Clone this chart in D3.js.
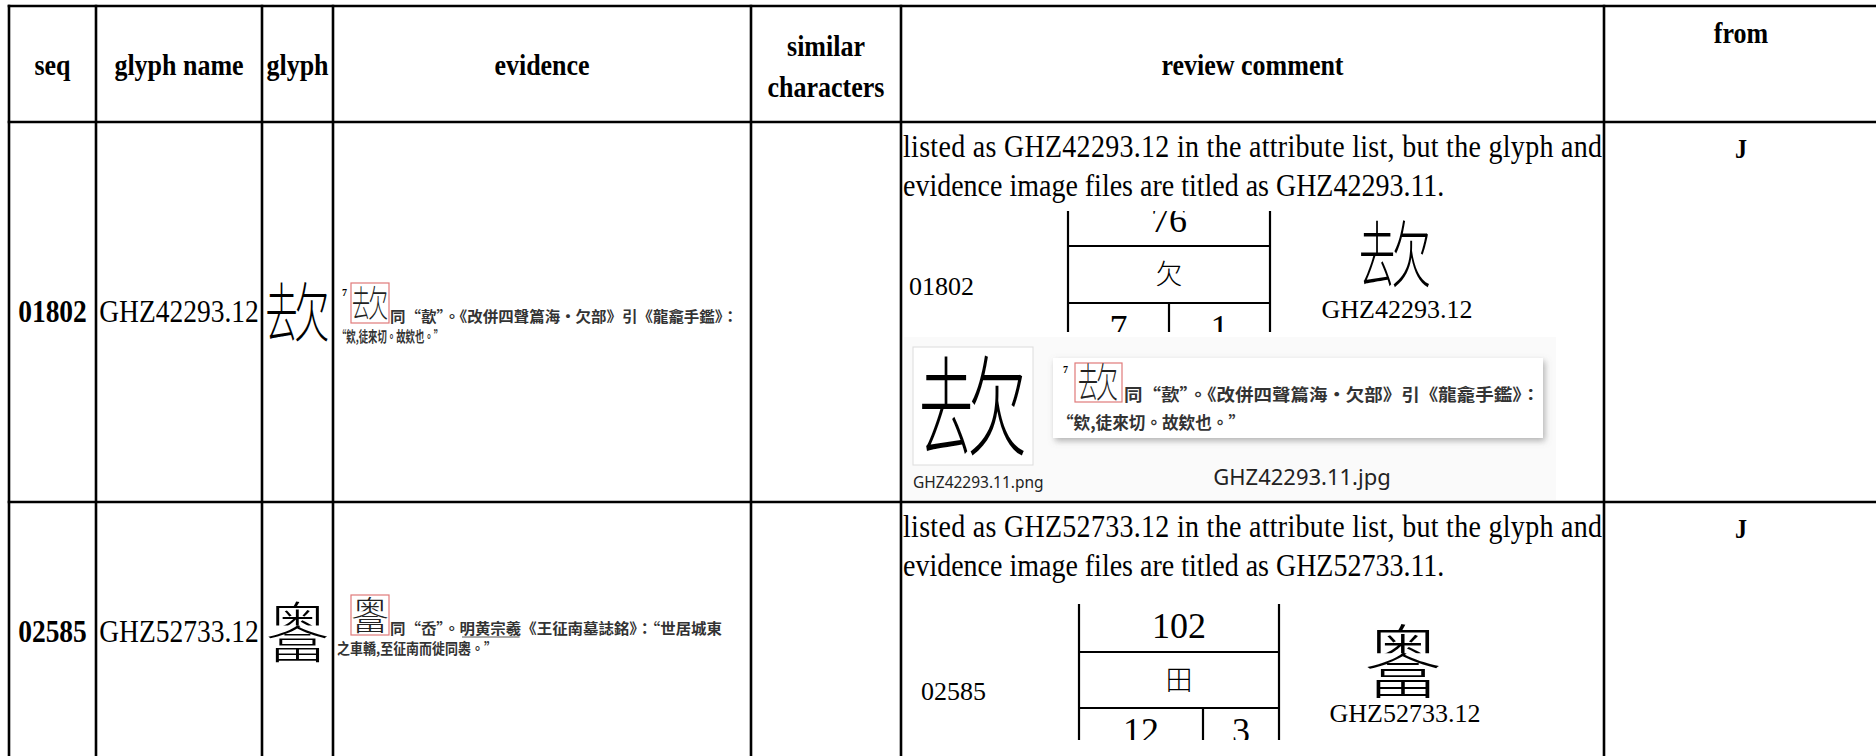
<!DOCTYPE html>
<html><head><meta charset="utf-8">
<script src="https://cdn.jsdelivr.net/npm/d3@7"></script>
<style>html,body{margin:0;padding:0;background:#fff;overflow:hidden}</style>
</head><body><svg id="c" width="1876" height="756"></svg>
<script>
// ---------- data ----------
const columns = ["seq","glyph name","glyph","evidence","similar characters","review comment","from"];
const seqs = ["01802","02585"];
const glyphNames = ["GHZ42293.12","GHZ52733.12"];
const fileNames = ["GHZ42293.11","GHZ52733.11"];
const glyphKeys = ["A","B"];
const superscripts = ["7",""];
const evidenceLine1 = ["同“歖”。《改併四聲篇海·欠部》引《龍龕手鑑》：","同“岙”。明黄宗羲《王征南墓誌銘》：“世居城東"];
const evidenceLine2 = ["“欸,徒來切。故欸也。”","之車轎,至征南而徙同嶴。”"];
const similarChars = ["",""];
const sources = ["J","J"];
const radicalNums = ["76","102"];
const radicalChars = ["欠","田"];
const strokeCounts = ["7","12"];
const firstStrokes = ["1","3"];

// ---------- layout ----------
const W = 1876, H = 756;
const SERIF = '"Liberation Serif","Times New Roman",serif';
const CJK = '"Noto Sans CJK TC","Noto Sans CJK SC",sans-serif';
const SANS = '"Noto Sans","Open Sans",sans-serif';
const SY = 1.15;
const colEdges = [9,96,262,333,751,901,1604,1878];
const rowEdges = [6,122,502,762];
const evBase = [322,634];
const evLen1 = [348,332];
const evLen2 = [106,160];
const diag = [
 {x0:1068,x1:1270,xm:1169,top:211,h1:246,h2:303,bot:332,numBase:232,radCy:274,sBase:340,idX:909,idBase:295,gCx:1395,gCy:254,gSize:72,labBase:318},
 {x0:1079,x1:1279,xm:1203,top:604,h1:652,h2:708,bot:740,numBase:638,radCy:680,sBase:743,idX:921,idBase:700,gCx:1403,gCy:661,gSize:78,labBase:722}
];

const svg = d3.select('#c');
const defs = svg.append('defs');
const f = defs.append('filter').attr('id','shadow').attr('x','-5%').attr('y','-20%').attr('width','112%').attr('height','150%');
f.append('feDropShadow').attr('dx',2).attr('dy',3).attr('stdDeviation',3).attr('flood-color','#777').attr('flood-opacity',0.55);

const xL = d3.scaleOrdinal(columns, colEdges.slice(0,-1));
const xR = d3.scaleOrdinal(columns, colEdges.slice(1));
const xC = c => (xL(c)+xR(c))/2;
const rowKeys = ["header", ...seqs];
const yT = d3.scaleOrdinal(rowKeys, rowEdges.slice(0,-1));
const yB = d3.scaleOrdinal(rowKeys, rowEdges.slice(1));
const yM = k => (yT(k)+yB(k))/2;

function T(p, x, y, str, o = {}) {
  return p.append('text')
    .attr('transform', `translate(${x},${y}) scale(${o.sx||1},${o.sy||1})`)
    .attr('font-family', o.ff || SERIF)
    .attr('font-size', o.fs || 26)
    .attr('font-weight', o.fw || 'normal')
    .attr('text-anchor', o.anchor || 'start')
    .attr('fill', o.fill || '#000')
    .text(str);
}

let clipId = 0;
function drawGlyph(p, key, cx, cy, size, fill) {
  const g = p.append('g').attr('transform', `translate(${cx},${cy})`);
  const fc = fill || '#000';
  if (key === 'A') {
    g.append('text').attr('transform', `translate(${-size*0.5},${size*0.38}) scale(0.5,1)`)
      .attr('font-family', CJK).attr('font-size', size).attr('font-weight', 300).attr('fill', fc).text('去');
    g.append('text').attr('transform', `translate(${-size*0.05},${size*0.38}) scale(0.55,1)`)
      .attr('font-family', CJK).attr('font-size', size).attr('font-weight', 300).attr('fill', fc).text('欠');
  } else {
    const id = 'gc' + (clipId++);
    defs.append('clipPath').attr('id', id).append('rect')
      .attr('x', -size).attr('y', -size).attr('width', size*2).attr('height', size*0.9);
    g.append('g').attr('clip-path', `url(#${id})`).append('text')
      .attr('transform', `translate(0,${size*0.16}) scale(1,0.75)`)
      .attr('text-anchor', 'middle').attr('font-family', CJK).attr('font-size', size).attr('font-weight', 300).attr('fill', fc).text('奥');
    g.append('text')
      .attr('transform', `translate(0,${size*0.42}) scale(1,0.62)`)
      .attr('text-anchor', 'middle').attr('font-family', CJK).attr('font-size', size).attr('font-weight', 300).attr('fill', fc).text('畣');
  }
  return g;
}

// ---------- grid ----------
const grid = svg.append('g').attr('stroke', '#000').attr('stroke-width', 2.6);
colEdges.slice(0,-1).forEach(x => grid.append('line').attr('x1', x).attr('x2', x).attr('y1', rowEdges[0]-1.3).attr('y2', H+10));
rowEdges.forEach(y => grid.append('line').attr('x1', colEdges[0]-1.3).attr('x2', W+10).attr('y1', y).attr('y2', y));

// ---------- header ----------
const hb = { fw:'bold', fs:26, sy:SY, anchor:'middle' };
columns.forEach(c => {
  if (c === 'similar characters') {
    T(svg, xC(c), 56, 'similar', hb);
    T(svg, xC(c), 97, 'characters', hb);
  } else if (c === 'from') {
    T(svg, xC(c), 43, c, hb);
  } else {
    T(svg, xC(c), 75, c, hb);
  }
});

// ---------- rows ----------
seqs.forEach((s, i) => {
  const mid = yM(s), top = yT(s);
  const base = mid + 10;
  T(svg, xC('seq'), base, s, { fw:'bold', fs:27.5, sy:SY, anchor:'middle' });
  T(svg, xC('glyph name'), base, glyphNames[i], { fs:27.5, sy:SY, anchor:'middle' });
  drawGlyph(svg, glyphKeys[i], xC('glyph'), mid, 64);

  // evidence (scan)
  const ev = svg.append('g');
  const eb = evBase[i];
  if (superscripts[i]) T(ev, xL('evidence')+9, eb-26, superscripts[i], { fs:10, fw:'bold', ff:SERIF });
  ev.append('rect').attr('x', xL('evidence')+18).attr('y', eb-39).attr('width', 38).attr('height', 40)
    .attr('fill', 'none').attr('stroke', '#e07a7a').attr('stroke-width', 1.2);
  drawGlyph(ev, glyphKeys[i], xL('evidence')+37, eb-19, i === 0 ? 36 : 38, '#222');
  T(ev, xL('evidence')+57, eb, evidenceLine1[i], { ff:CJK, fs:14.5, fw:'bold', fill:'#333' })
    .attr('textLength', evLen1[i]).attr('lengthAdjust', 'spacingAndGlyphs');
  T(ev, xL('evidence')+4, eb+20, evidenceLine2[i], { ff:CJK, fs:14.5, fw:'bold', fill:'#333' })
    .attr('textLength', evLen2[i]).attr('lengthAdjust', 'spacingAndGlyphs');
  if (i === 1) {
    ev.append('line').attr('x1', xL('evidence')+57+5*14.4).attr('x2', xL('evidence')+57+9*14.4)
      .attr('y1', eb+3).attr('y2', eb+3).attr('stroke', '#555').attr('stroke-width', 1);
  }

  T(svg, xC('similar characters'), base, similarChars[i], { fs:26, sy:SY, anchor:'middle' });
  T(svg, xC('from'), top+36, sources[i], { fw:'bold', fs:24, sy:SY, anchor:'middle' });

  // review comment
  const rx = xL('review comment') + 2;
  T(svg, rx, top+35, `listed as ${glyphNames[i]} in the attribute list, but the glyph and`, { fs:28, sy:SY })
    .attr('textLength', xR('review comment') - rx - 2).attr('lengthAdjust', 'spacing');
  T(svg, rx, top+74, `evidence image files are titled as ${fileNames[i]}.`, { fs:28, sy:SY });

  // attribute diagram
  const d = diag[i];
  const cid = 'dclip' + i;
  defs.append('clipPath').attr('id', cid).append('rect')
    .attr('x', d.x0-10).attr('y', d.top).attr('width', d.x1-d.x0+20).attr('height', d.bot-d.top);
  const dg = svg.append('g').attr('clip-path', `url(#${cid})`);
  const dl = dg.append('g').attr('stroke', '#000').attr('stroke-width', 2.2);
  [d.x0, d.x1].forEach(x => dl.append('line').attr('x1', x).attr('x2', x).attr('y1', d.top-20).attr('y2', d.bot+20));
  [d.h1, d.h2].forEach(y => dl.append('line').attr('x1', d.x0).attr('x2', d.x1).attr('y1', y).attr('y2', y));
  dl.append('line').attr('x1', d.xm).attr('x2', d.xm).attr('y1', d.h2).attr('y2', d.bot+20);
  T(dg, (d.x0+d.x1)/2, d.numBase, radicalNums[i], { fs:36, anchor:'middle' });
  T(dg, (d.x0+d.x1)/2, d.radCy + 10, radicalChars[i], { ff:CJK, fs:27, anchor:'middle', fw:300 });
  T(dg, (d.x0+d.xm)/2, d.sBase, strokeCounts[i], { fs:36, anchor:'middle' });
  T(dg, (d.xm+d.x1)/2, d.sBase, firstStrokes[i], { fs:36, anchor:'middle' });
  T(svg, d.idX, d.idBase, s, { fs:26 });
  drawGlyph(svg, glyphKeys[i], d.gCx, d.gCy, d.gSize);
  T(svg, d.gCx + 2, d.labBase, glyphNames[i], { fs:26, anchor:'middle' });
});

// ---------- file screenshots (row 1) ----------
const sc = svg.append('g');
sc.append('rect').attr('x', 904).attr('y', 337).attr('width', 652).attr('height', 163).attr('fill', '#fafafa');
sc.append('rect').attr('x', 913).attr('y', 347).attr('width', 120).attr('height', 118).attr('fill', '#fff').attr('stroke', '#dcdcdc');
drawGlyph(sc, glyphKeys[0], 973, 406, 108);
T(sc, 913, 488, `${fileNames[0]}.png`, { ff:SANS, fs:15.5, fill:'#222' });
sc.append('rect').attr('x', 1053).attr('y', 358).attr('width', 490).attr('height', 80).attr('fill', '#fff').attr('filter', 'url(#shadow)');
T(sc, 1063, 373, superscripts[0], { fs:10, fw:'bold' });
sc.append('rect').attr('x', 1075).attr('y', 363).attr('width', 47).attr('height', 39).attr('fill', 'none').attr('stroke', '#e07a7a').attr('stroke-width', 1.2);
drawGlyph(sc, glyphKeys[0], 1098, 382, 40, '#222');
T(sc, 1124, 401, evidenceLine1[0], { ff:CJK, fs:16.5, fw:'bold', fill:'#333' })
  .attr('textLength', 416).attr('lengthAdjust', 'spacingAndGlyphs');
T(sc, 1057, 429, evidenceLine2[0], { ff:CJK, fs:16.5, fw:'bold', fill:'#333' })
  .attr('textLength', 188).attr('lengthAdjust', 'spacingAndGlyphs');
T(sc, 1302, 485, `${fileNames[0]}.jpg`, { ff:SANS, fs:22, fill:'#222', anchor:'middle' });
</script>
</body></html>
